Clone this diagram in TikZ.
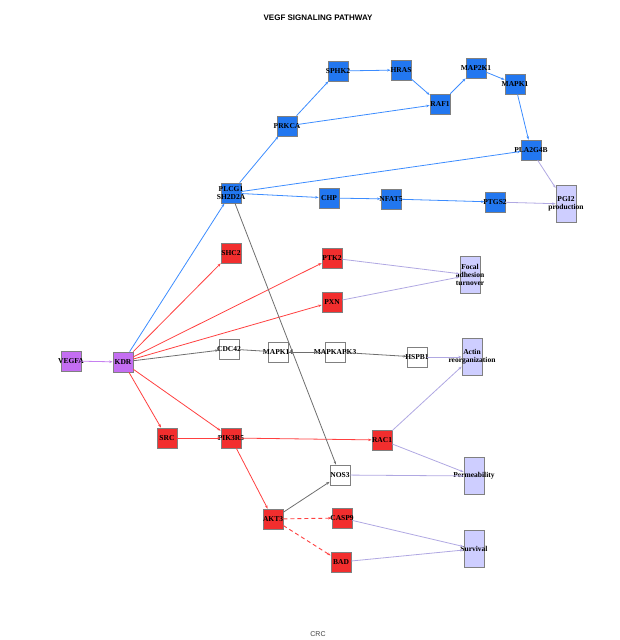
\documentclass[tikz,border=0pt]{standalone}
\usepackage{fontspec}
\setmainfont{Liberation Serif}
\newfontfamily\headfont{Liberation Sans}
\usetikzlibrary{arrows.meta}

\definecolor{genblue}{RGB}{34,119,240}
\definecolor{genred}{RGB}{242,46,46}
\definecolor{genpurple}{RGB}{196,110,242}
\definecolor{resfill}{RGB}{206,206,255}
\definecolor{linkblue}{RGB}{60,140,255}
\definecolor{linkred}{RGB}{255,64,64}
\definecolor{linkgray}{RGB}{110,110,110}
\definecolor{linklav}{RGB}{176,168,226}
\definecolor{linkpurple}{RGB}{198,128,240}

\tikzset{
  gene/.style={draw=gray, line width=0.7pt, minimum size=20pt, inner sep=0pt},
  effect/.style={draw=gray, line width=0.7pt, fill=resfill, minimum width=20pt, minimum height=37pt, inner sep=0pt},
  lbl/.style={font=\fontsize{7.5}{8}\selectfont\bfseries, inner sep=0pt, align=center},
  link/.style={line width=0.8pt, -{Stealth[length=3.5pt,width=2.5pt]}},
  inhib/.style={line width=0.9pt, dash pattern=on 4pt off 3pt, -{Stealth[length=3.5pt,width=2.5pt]}},
}

\begin{document}
\begin{tikzpicture}[x=1pt,y=-1pt]
\useasboundingbox (0,0) rectangle (620,640);

\node[font=\headfont\bfseries\fontsize{8}{9}\selectfont] (title) at (318,18) {VEGF SIGNALING PATHWAY};
\node[font=\headfont\fontsize{7}{8}\selectfont, text=black!75] (crc) at (318,634) {CRC};

% receptor
\node[gene, fill=genpurple, label={[lbl]center:VEGFA}] (vegfa) at (71,361) {};
\node[gene, fill=genpurple, label={[lbl]center:KDR}] (kdr) at (123,362) {};

% blue branch
\node[gene, fill=genblue, label={[lbl]center:PLCG1\\SH2D2A}] (plcg1) at (231,193) {};
\node[gene, fill=genblue, label={[lbl]center:PRKCA}] (prkca) at (287,126) {};
\node[gene, fill=genblue, label={[lbl]center:SPHK2}] (sphk2) at (338,71) {};
\node[gene, fill=genblue, label={[lbl]center:HRAS}] (hras) at (401,70) {};
\node[gene, fill=genblue, label={[lbl]center:RAF1}] (raf1) at (440,104) {};
\node[gene, fill=genblue, label={[lbl]center:MAP2K1}] (map2k1) at (476,68) {};
\node[gene, fill=genblue, label={[lbl]center:MAPK1}] (mapk1) at (515,84) {};
\node[gene, fill=genblue, label={[lbl]center:PLA2G4B}] (pla2g4b) at (531,150) {};
\node[gene, fill=genblue, label={[lbl]center:CHP}] (chp) at (329,198) {};
\node[gene, fill=genblue, label={[lbl]center:NFAT5}] (nfat5) at (391,199) {};
\node[gene, fill=genblue, label={[lbl]center:PTGS2}] (ptgs2) at (495,202) {};

% red branch
\node[gene, fill=genred, label={[lbl]center:SHC2}] (shc2) at (231,253) {};
\node[gene, fill=genred, label={[lbl]center:PTK2}] (ptk2) at (332,258) {};
\node[gene, fill=genred, label={[lbl]center:PXN}] (pxn) at (332,302) {};
\node[gene, fill=genred, label={[lbl]center:SRC}] (src) at (167,438) {};
\node[gene, fill=genred, label={[lbl]center:PIK3R5}] (pik3r5) at (231,438) {};
\node[gene, fill=genred, label={[lbl]center:RAC1}] (rac1) at (382,440) {};
\node[gene, fill=genred, label={[lbl]center:AKT3}] (akt3) at (273,519) {};
\node[gene, fill=genred, label={[lbl]center:CASP9}] (casp9) at (342,518) {};
\node[gene, fill=genred, label={[lbl]center:BAD}] (bad) at (341,562) {};

% white nodes
\node[gene, fill=white, label={[lbl]center:CDC42}] (cdc42) at (229,349) {};
\node[gene, fill=white, label={[lbl]center:MAPK14}] (mapk14) at (278,352) {};
\node[gene, fill=white, label={[lbl]center:MAPKAPK3}] (mapkapk3) at (335,352) {};
\node[gene, fill=white, label={[lbl]center:HSPB1}] (hspb1) at (417,357) {};
\node[gene, fill=white, label={[lbl]center:NOS3}] (nos3) at (340,475) {};

% outcomes
\node[effect, label={[lbl]center:PGI2\\production}] (pgi2) at (566,204) {};
\node[effect, label={[lbl]center:Focal\\adhesion\\turnover}] (focal) at (470,275) {};
\node[effect, label={[lbl]center:Actin\\reorganization}] (actin) at (472,357) {};
\node[effect, label={[lbl]center:Permeability}] (perm) at (474,476) {};
\node[effect, label={[lbl]center:Survival}] (surv) at (474,549) {};

\draw[link, linkpurple] (vegfa) -- (kdr);

\draw[link, linkblue] (kdr) -- (plcg1);
\draw[link, linkblue] (plcg1) -- (prkca);
\draw[link, linkblue] (prkca) -- (sphk2);
\draw[link, linkblue] (prkca) -- (raf1);
\draw[link, linkblue] (sphk2) -- (hras);
\draw[link, linkblue] (hras) -- (raf1);
\draw[link, linkblue] (raf1) -- (map2k1);
\draw[link, linkblue] (map2k1) -- (mapk1);
\draw[link, linkblue] (mapk1) -- (pla2g4b);
\draw[link, linkblue] (plcg1) -- (pla2g4b);
\draw[link, linkblue] (plcg1) -- (chp);
\draw[link, linkblue] (chp) -- (nfat5);
\draw[link, linkblue] (nfat5) -- (ptgs2);

\draw[link, linkred] (kdr) -- (shc2);
\draw[link, linkred] (kdr) -- (ptk2);
\draw[link, linkred] (kdr) -- (pxn);
\draw[link, linkred] (kdr) -- (src);
\draw[link, linkred] (kdr) -- (pik3r5);
\draw[link, linkred] (src) -- (pik3r5);
\draw[link, linkred] (pik3r5) -- (rac1);
\draw[link, linkred] (pik3r5) -- (akt3);
\draw[inhib, linkred] (akt3) -- (casp9);
\draw[inhib, linkred] (akt3) -- (bad);

\draw[link, linkgray] (kdr) -- (cdc42);
\draw[link, linkgray] (cdc42) -- (mapk14);
\draw[link, linkgray] (mapk14) -- (mapkapk3);
\draw[link, linkgray] (mapkapk3) -- (hspb1);
\draw[link, linkgray] (plcg1) -- (nos3);
\draw[link, linkgray] (akt3) -- (nos3);

\draw[link, linklav] (pla2g4b) -- (pgi2);
\draw[link, linklav] (ptgs2) -- (pgi2);
\draw[link, linklav] (ptk2) -- (focal);
\draw[link, linklav] (pxn) -- (focal);
\draw[link, linklav] (hspb1) -- (actin);
\draw[link, linklav] (rac1) -- (actin);
\draw[link, linklav] (rac1) -- (perm);
\draw[link, linklav] (nos3) -- (perm);
\draw[link, linklav] (casp9) -- (surv);
\draw[link, linklav] (bad) -- (surv);
\end{tikzpicture}
\end{document}
